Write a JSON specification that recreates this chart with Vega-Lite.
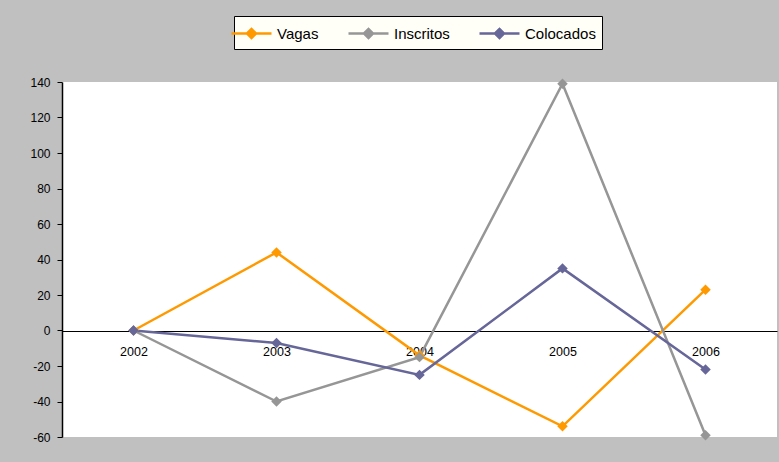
{
  "$schema": "https://vega.github.io/schema/vega-lite/v6.json",
  "width": 715,
  "height": 355,
  "autosize": {"type": "none"},
  "padding": {"left": 62, "top": 82, "right": 2, "bottom": 25},
  "background": "#c0c0c0",
  "config": {
    "view": {"fill": "white", "stroke": null},
    "font": "Liberation Sans"
  },
  "data": {
    "values": [
      {"year": "2002", "series": "Vagas", "value": 0},
      {"year": "2003", "series": "Vagas", "value": 44},
      {"year": "2004", "series": "Vagas", "value": -14},
      {"year": "2005", "series": "Vagas", "value": -54},
      {"year": "2006", "series": "Vagas", "value": 23},
      {"year": "2002", "series": "Inscritos", "value": 0},
      {"year": "2003", "series": "Inscritos", "value": -40},
      {"year": "2004", "series": "Inscritos", "value": -15},
      {"year": "2005", "series": "Inscritos", "value": 139},
      {"year": "2006", "series": "Inscritos", "value": -59},
      {"year": "2002", "series": "Colocados", "value": 0},
      {"year": "2003", "series": "Colocados", "value": -7},
      {"year": "2004", "series": "Colocados", "value": -25},
      {"year": "2005", "series": "Colocados", "value": 35},
      {"year": "2006", "series": "Colocados", "value": -22}
    ]
  },
  "encoding": {
    "x": {
      "field": "year",
      "type": "ordinal",
      "scale": {"type": "point", "padding": 0.5},
      "axis": {
        "title": null,
        "labelAngle": 0,
        "offset": -106,
        "domainColor": "black",
        "domainWidth": 1,
        "domainOpacity": 1,
        "ticks": false,
        "labelPadding": 14,
        "labelFontSize": 12.5,
        "labelColor": "black",
        "grid": false
      }
    },
    "y": {
      "field": "value",
      "type": "quantitative",
      "scale": {"domain": [-60, 140], "nice": false},
      "axis": {
        "title": null,
        "values": [-60, -40, -20, 0, 20, 40, 60, 80, 100, 120, 140],
        "labelExpr": "replace(datum.label, '\u2212', '-')",
        "grid": false,
        "zindex": 1,
        "domainColor": "black",
        "domainWidth": 1.5,
        "domainOpacity": 1,
        "tickColor": "black",
        "tickSize": 5,
        "labelPadding": 7,
        "labelFontSize": 12,
        "labelColor": "black"
      }
    },
    "color": {
      "field": "series",
      "type": "nominal",
      "sort": ["Vagas", "Inscritos", "Colocados"],
      "scale": {
        "domain": ["Vagas", "Inscritos", "Colocados"],
        "range": ["#ff9900", "#969696", "#666699"]
      },
      "legend": {
        "title": null,
        "orient": "none",
        "legendX": 172,
        "legendY": -66,
        "direction": "horizontal",
        "fillColor": "#fffff8",
        "strokeColor": "black",
        "padding": 6,
        "symbolType": "M-2,0H2M-0.45,0L0,-0.45L0.45,0L0,0.45Z",
        "symbolSize": 400,
        "symbolStrokeWidth": 2.5,
        "symbolOpacity": 1,
        "labelFontSize": 15,
        "labelColor": "black",
        "labelOffset": 14,
        "columnPadding": 24,
        "encode": {
          "symbols": {
            "update": {
              "fill": {"scale": "color", "field": "value"},
              "stroke": {"scale": "color", "field": "value"}
            }
          }
        }
      }
    }
  },
  "layer": [
    {"mark": {"type": "line", "strokeWidth": 2.5}},
    {"mark": {"type": "point", "shape": "diamond", "filled": true, "size": 110, "opacity": 1}}
  ]
}
